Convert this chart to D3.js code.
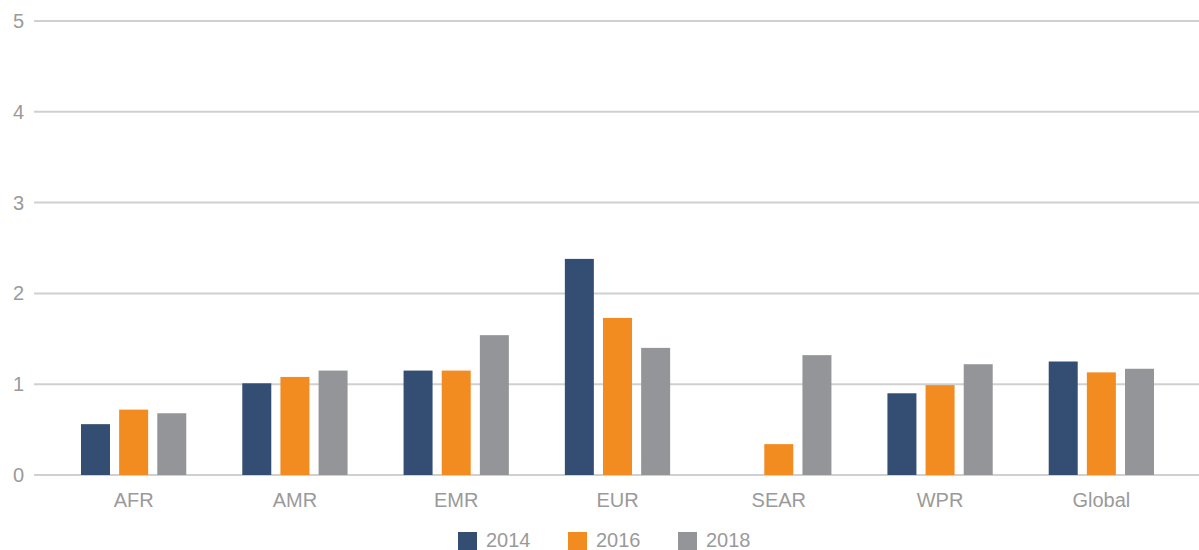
<!DOCTYPE html>
<html>
<head>
<meta charset="utf-8">
<script src="https://cdn.jsdelivr.net/npm/d3@7"></script>
<style>
  body { margin: 0; background: #fff; }
  text { font-family: "Liberation Sans", Arial, sans-serif; }
</style>
</head>
<body>
<div id="chart"></div>
<script>
// data
var categories = ["AFR", "AMR", "EMR", "EUR", "SEAR", "WPR", "Global"];
var years = ["2014", "2016", "2018"];
var values2014 = [0.56, 1.01, 1.15, 2.38, null, 0.90, 1.25];
var values2016 = [0.72, 1.08, 1.15, 1.73, 0.34, 0.99, 1.13];
var values2018 = [0.68, 1.15, 1.54, 1.40, 1.32, 1.22, 1.17];
var yTicks = [0, 1, 2, 3, 4, 5];
var colors = ["#344e73", "#f28b20", "#939598"];

var series = [values2014, values2016, values2018];

var width = 1199, height = 550;
var labelColor = "#9a9a9a";

var svg = d3.select("#chart").append("svg")
    .attr("width", width)
    .attr("height", height);

//scales
var x = d3.scaleBand()
    .domain(categories)
    .range([53, 1182]);

var xInner = d3.scaleBand()
    .domain(years)
    .range([28, x.bandwidth() - 28])
    .paddingInner(0.24);

var y = d3.scaleLinear()
    .domain([0, 5])
    .range([475, 21]);

//grid lines
svg.append("g")
    .selectAll("line")
    .data(yTicks)
    .enter().append("line")
    .attr("x1", 34)
    .attr("x2", width)
    .attr("y1", function(d) { return y(d); })
    .attr("y2", function(d) { return y(d); })
    .attr("stroke", "#d0d0d0")
    .attr("stroke-width", 2);

//y tick labels
svg.append("g")
    .selectAll("text")
    .data(yTicks)
    .enter().append("text")
    .attr("x", 24)
    .attr("y", function(d) { return y(d) + 7; })
    .attr("text-anchor", "end")
    .attr("font-size", "20px")
    .attr("fill", labelColor)
    .text(function(d) { return d; });

//bars
var groups = svg.append("g")
    .selectAll("g")
    .data(categories)
    .enter().append("g")
    .attr("transform", function(d) { return "translate(" + x(d) + ",0)"; });

groups.selectAll("rect")
    .data(function(d, i) {
      return years.map(function(yr, j) { return { year: yr, s: j, value: series[j][i] }; });
    })
    .enter().append("rect")
    .filter(function(d) { return d.value != null; })
    .attr("x", function(d) { return xInner(d.year); })
    .attr("width", xInner.bandwidth())
    .attr("y", function(d) { return y(d.value); })
    .attr("height", function(d) { return y(0) - y(d.value); })
    .attr("fill", function(d) { return colors[d.s]; });

//category labels
svg.append("g")
    .selectAll("text")
    .data(categories)
    .enter().append("text")
    .attr("x", function(d) { return x(d) + x.bandwidth() / 2; })
    .attr("y", 507)
    .attr("text-anchor", "middle")
    .attr("font-size", "20px")
    .attr("fill", labelColor)
    .text(function(d) { return d; });

//legend
var legend = svg.append("g")
    .selectAll("g")
    .data(years)
    .enter().append("g")
    .attr("transform", function(d, i) { return "translate(" + (458 + i * 110) + ",532)"; });

legend.append("rect")
    .attr("width", 19)
    .attr("height", 18)
    .attr("fill", function(d, i) { return colors[i]; });

legend.append("text")
    .attr("x", 28)
    .attr("y", 15)
    .attr("font-size", "20px")
    .attr("fill", labelColor)
    .text(function(d) { return d; });
</script>
</body>
</html>
